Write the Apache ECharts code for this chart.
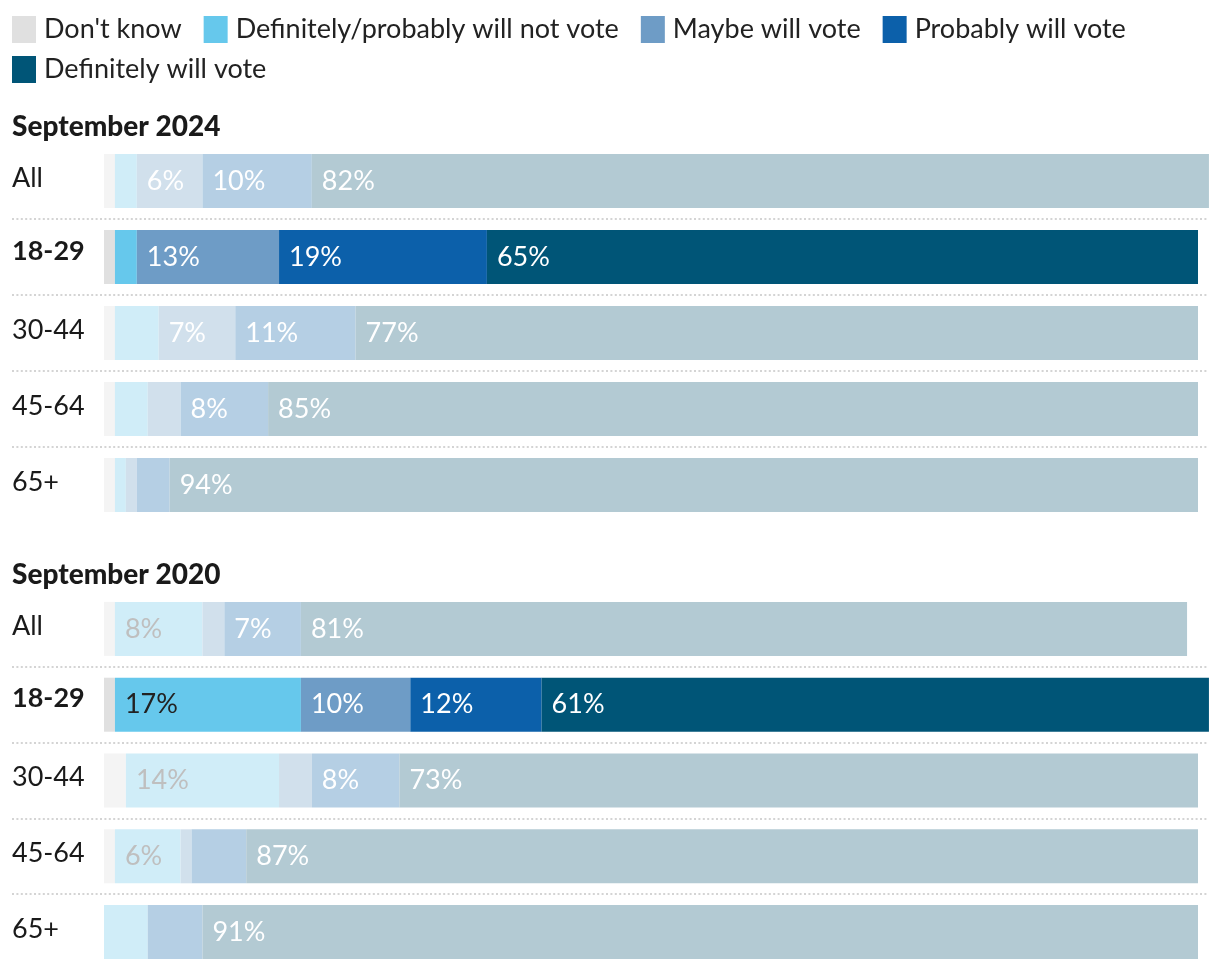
<!DOCTYPE html>
<html>
<head>
<meta charset="utf-8">
<script src="https://cdn.jsdelivr.net/npm/echarts@6/dist/echarts.min.js"></script>
<style>
html,body{margin:0;padding:0;background:#fff;}
#chart{width:1220px;height:970px;}
</style>
</head>
<body>
<div id="chart"></div>
<script>
// ---- data ----
const categories = ['All', '18-29', '30-44', '45-64', '65+'];
const seriesNames = ["Don't know", 'Definitely/probably will not vote', 'Maybe will vote', 'Probably will vote', 'Definitely will vote'];
const groupTitles = ['September 2024', 'September 2020'];

const dontKnow24    = [1, 1, 1, 1, 1];
const notVote24     = [2, 2, 4, 3, 1];
const maybe24       = [6, 13, 7, 3, 1];
const probably24    = [10, 19, 11, 8, 3];
const definitely24  = [82, 65, 77, 85, 94];

const dontKnow20    = [1, 1, 2, 1, 0];
const notVote20     = [8, 17, 14, 6, 4];
const maybe20       = [2, 10, 3, 1, 0];
const probably20    = [7, 12, 8, 5, 5];
const definitely20  = [81, 61, 73, 87, 91];

const highlightRow = '18-29';
const labelThreshold = 6;

// ---- styles ----
const fullColors  = ['#e0e0e0', '#66c8ec', '#6e9cc6', '#0c60aa', '#005577'];
const fadedColors = ['#f4f4f4', '#d0edf8', '#d1e0ec', '#b5cfe4', '#b3cad3'];
const fullLabel   = ['#ffffff', '#222222', '#ffffff', '#ffffff', '#ffffff'];
const fadedLabel  = ['#ffffff', '#bfbfbf', '#ffffff', '#ffffff', '#ffffff'];
const FONT = 'Lato';
const FS = 27;

const groups = [
  [dontKnow24, notVote24, maybe24, probably24, definitely24],
  [dontKnow20, notVote20, maybe20, probably20, definitely20]
];

const pxPerUnit = 10.94;
const gridLeft = 12, gridRight = 12, zeroX = 104;
const xMin = -(zeroX - gridLeft) / pxPerUnit;
const xMax = xMin + (1220 - gridLeft - gridRight) / pxPerUnit;

const gridTops = [143, 591];
const grids = gridTops.map(t => ({ left: gridLeft, right: gridRight, top: t, height: 380 }));

const xAxes = grids.map((g, i) => ({
  type: 'value', gridIndex: i, min: xMin, max: xMax, show: false
}));

const yAxes = grids.map((g, i) => ({
  type: 'category', gridIndex: i, data: categories, inverse: true,
  axisLine: { show: false }, axisTick: { show: false },
  axisLabel: {
    inside: true, margin: 0, fontFamily: FONT, fontSize: FS, color: '#1a1a1a',
    padding: [0, 0, 6, 0],
    formatter: v => v === highlightRow ? '{b|' + v + '}' : v,
    rich: { b: { fontFamily: FONT, fontSize: FS, fontWeight: 'bold', color: '#1a1a1a', padding: [0, 0, 6, 0] } }
  },
  splitLine: {
    show: true, showMinLine: false, showMaxLine: false,
    lineStyle: { color: '#d4d4d4', width: 2, type: [2, 2.4] }
  }
}));

const series = [];
groups.forEach((arrs, gi) => {
  arrs.forEach((arr, si) => {
    series.push({
      name: seriesNames[si],
      type: 'bar',
      stack: 'g' + gi,
      xAxisIndex: gi, yAxisIndex: gi,
      barWidth: 54,
      clip: false,
      itemStyle: { color: fullColors[si] },
      emphasis: { disabled: true },
      data: arr.map((v, ri) => {
        const hi = categories[ri] === highlightRow;
        return {
          value: v,
          itemStyle: { color: hi ? fullColors[si] : fadedColors[si] },
          label: {
            show: v >= labelThreshold,
            position: 'insideLeft', distance: 10,
            formatter: '{c}%',
            fontFamily: FONT, fontSize: FS,
            color: hi ? fullLabel[si] : fadedLabel[si]
          }
        };
      })
    });
  });
});

const legendCommon = {
  left: 12, padding: 0, itemWidth: 24, itemHeight: 27, itemGap: 22, icon: 'rect',
  selectedMode: false,
  textStyle: { fontFamily: FONT, fontSize: FS, color: '#222', padding: [0, 0, 0, 3] }
};

const option = {
  animation: false,
  backgroundColor: '#ffffff',
  title: groupTitles.map((t, i) => ({
    text: t, left: 12, top: [113, 561][i], padding: 0,
    textStyle: { fontFamily: FONT, fontSize: 28, fontWeight: 900, color: '#1a1a1a' }
  })),
  legend: [
    Object.assign({}, legendCommon, { top: 16, data: seriesNames.slice(0, 4) }),
    Object.assign({}, legendCommon, { top: 56, data: seriesNames.slice(4) })
  ],
  grid: grids,
  xAxis: xAxes,
  yAxis: yAxes,
  series: series
};

const chart = echarts.init(document.getElementById('chart'), null, { renderer: 'canvas' });
chart.setOption(option);
</script>
</body>
</html>
